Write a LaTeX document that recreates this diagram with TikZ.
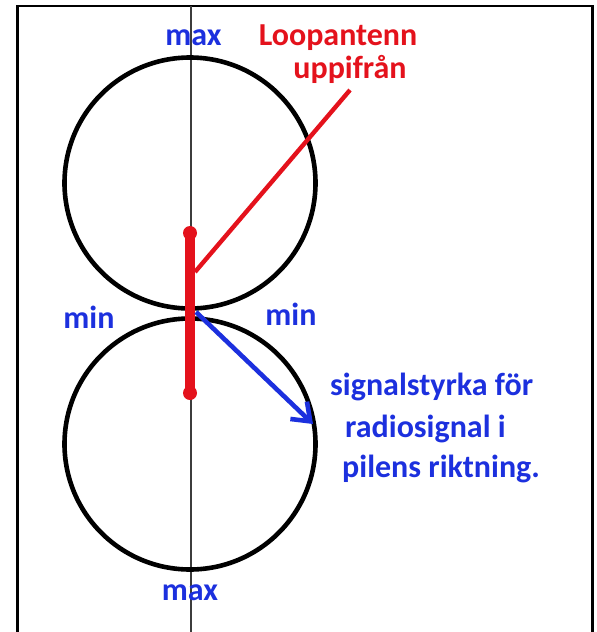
\documentclass[tikz,border=0pt]{standalone}
\usepackage{fontspec}
\setmainfont{Carlito}
\usetikzlibrary{arrows.meta}
\definecolor{lblue}{RGB}{28,48,222}
\definecolor{lred}{RGB}{228,18,28}
\definecolor{axisgray}{RGB}{60,60,60}
\tikzset{
  lbl/.style={inner sep=0pt, font=\fontsize{32}{38}\selectfont\bfseries},
  bluelbl/.style={lbl, text=lblue},
  redlbl/.style={lbl, text=lred},
  lobe/.style={draw=black, line width=4.6pt, circle, minimum size=251pt, inner sep=0pt},
  frameline/.style={draw=black, line width=2.4pt},
  axisline/.style={draw=axisgray, line width=1.4pt},
  antenna/.style={draw=lred, line width=10pt},
  antdot/.style={fill=lred, circle, minimum size=14pt, inner sep=0pt},
  pointer/.style={draw=lred, line width=4.4pt},
  sigarrow/.style={draw=lblue, line width=4.6pt, -{Straight Barb[length=16pt,width=24pt]}},
}
\begin{document}
\begin{tikzpicture}[x=1pt,y=-1pt]
\useasboundingbox (0,0) rectangle (597,632);
% frame (open at the bottom)
\coordinate (fbl) at (17.5,640);
\coordinate (ftl) at (17.5,6);
\coordinate (ftr) at (592.5,6);
\coordinate (fbr) at (592.5,640);
\draw[frameline] (fbl) -- (ftl) -- (ftr) -- (fbr);
% axis
\coordinate (axt) at (191,6);
\coordinate (axb) at (191,640);
\draw[axisline] (axt) -- (axb);
% lobes
\node[lobe] (uc) at (190,183) {};
\node[lobe] (lc) at (190,444) {};
% antenna
\node[antdot] (at) at (190,233) {};
\node[antdot] (ab) at (190,393) {};
\draw[antenna] (at.center) -- (ab.center);
% pointer to label
\coordinate (pstart) at (195,272);
\coordinate (pend) at (350,90);
\draw[pointer] (pstart) -- (pend);
% signal arrow
\coordinate (astart) at (196,312);
\coordinate (aend) at (313,424);
\draw[sigarrow] (astart) -- (aend);
% labels
\node[bluelbl, anchor=base] (maxtop) at (193.5,45) {max};
\node[redlbl, anchor=base] (loop1) at (338,45) {Loopantenn};
\node[redlbl, anchor=base] (loop2) at (350,78) {uppifrån};
\node[bluelbl, anchor=base] (minl) at (89,328) {min};
\node[bluelbl, anchor=base] (minr) at (291,325) {min};
\node[bluelbl, anchor=base west] (sig1) at (330,395) {signalstyrka för};
\node[bluelbl, anchor=base west] (sig2) at (345,437) {radiosignal i};
\node[bluelbl, anchor=base west] (sig3) at (342,477) {pilens riktning.};
\node[bluelbl, anchor=base] (maxbot) at (190,600) {max};
\end{tikzpicture}
\end{document}
